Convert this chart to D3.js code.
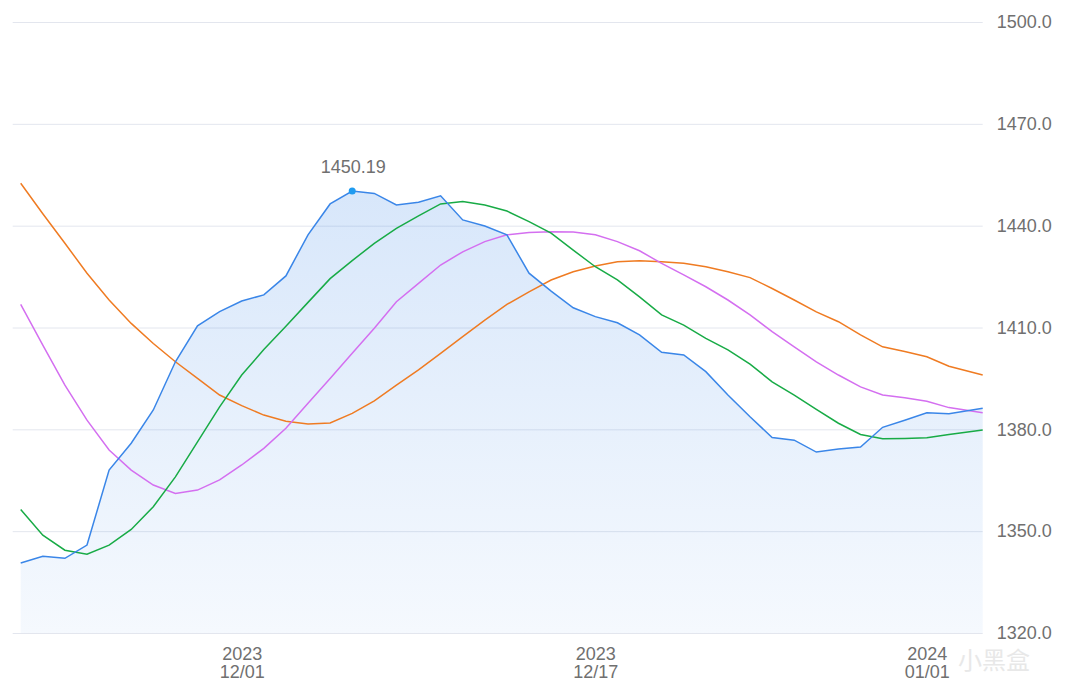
<!DOCTYPE html>
<html>
<head>
<meta charset="utf-8">
<script src="https://cdn.jsdelivr.net/npm/d3@7"></script>
<style>
  body { margin: 0; background: #fff; }
  svg { display: block; font-family: "Liberation Sans", Arial, sans-serif; }
  .grid line { stroke: #e3e6ee; stroke-width: 1; }
  .grid text { fill: #707070; font-size: 18px; }
  .xaxis text { fill: #707070; font-size: 18px; }
  .line { fill: none; stroke-width: 1.5; }
</style>
</head>
<body>
<svg width="1071" height="688"></svg>
<script>
var dates = [
  "2023-11-21","2023-11-22","2023-11-23","2023-11-24","2023-11-25","2023-11-26","2023-11-27",
  "2023-11-28","2023-11-29","2023-11-30","2023-12-01","2023-12-02","2023-12-03","2023-12-04",
  "2023-12-05","2023-12-06","2023-12-07","2023-12-08","2023-12-09","2023-12-10","2023-12-11",
  "2023-12-12","2023-12-13","2023-12-14","2023-12-15","2023-12-16","2023-12-17","2023-12-18",
  "2023-12-19","2023-12-20","2023-12-21","2023-12-22","2023-12-23","2023-12-24","2023-12-25",
  "2023-12-26","2023-12-27","2023-12-28","2023-12-29","2023-12-30","2023-12-31","2024-01-01",
  "2024-01-02","2024-01-03T12:40"
];

// price (blue, filled)
var price = [1340.6,1342.6,1342.0,1345.9,1368.0,1375.9,1385.7,1399.9,1410.5,1414.7,
  1417.8,1419.6,1425.2,1437.3,1446.4,1450.19,1449.5,1446.1,1446.9,1448.8,
  1441.7,1439.9,1437.3,1426.0,1420.7,1415.8,1413.2,1411.4,1407.8,1402.7,
  1401.9,1397.0,1390.1,1383.7,1377.6,1376.8,1373.3,1374.2,1374.8,1380.6,
  1382.7,1384.9,1384.6,1386.2];

var green = [1356.4,1348.8,1344.4,1343.2,1345.9,1350.5,1357.2,1366.0,1376.3,1386.6,
  1396.0,1403.5,1410.4,1417.4,1424.4,1429.7,1434.8,1439.2,1442.9,1446.4,
  1447.1,1446.1,1444.3,1441.2,1437.8,1432.8,1427.9,1424.0,1419.0,1413.7,
  1410.7,1406.8,1403.4,1399.2,1394.0,1390.1,1385.9,1381.8,1378.5,1377.2,
  1377.3,1377.5,1378.5,1379.8];

var magenta = [1416.8,1404.8,1393.0,1382.7,1373.9,1368.0,1363.6,1361.1,1362.1,1365.1,
  1369.5,1374.4,1380.3,1387.7,1395.0,1402.4,1409.8,1417.6,1423.0,1428.4,
  1432.3,1435.3,1437.3,1438.0,1438.2,1438.1,1437.3,1435.3,1432.6,1428.9,
  1425.5,1422.0,1418.1,1413.7,1408.8,1404.3,1399.9,1396.0,1392.5,1390.1,
  1389.3,1388.3,1386.4,1384.9];

var orange = [1452.5,1443.5,1434.8,1426.0,1418.1,1411.2,1405.3,1399.9,1395.0,1390.1,
  1387.0,1384.2,1382.4,1381.6,1381.9,1384.7,1388.4,1393.0,1397.5,1402.4,
  1407.3,1412.2,1416.8,1420.5,1424.0,1426.4,1428.1,1429.4,1429.7,1429.4,
  1428.9,1427.9,1426.4,1424.7,1421.5,1418.1,1414.6,1411.7,1407.8,1404.3,
  1402.9,1401.4,1398.6,1396.0];

var yTicks = [1320, 1350, 1380, 1410, 1440, 1470, 1500];
var xTicks = ["2023-12-01", "2023-12-17", "2024-01-01"];

var svg = d3.select("svg");
var mLeft = 20.7, mRight = 982.7, mTop = 22, mBottom = 633;

var parse = function(s) { return new Date(s.length > 10 ? s : s + "T00:00"); };
var t = dates.map(parse);

var x = d3.scaleTime().domain([t[0], t[t.length - 1]]).range([mLeft, mRight]);
var y = d3.scaleLinear().domain([1320, 1500]).range([mBottom, mTop]);

// grid + right labels
var grid = svg.append("g")
  .attr("class", "grid")
  .attr("transform", "translate(" + mRight + ",0)")
  .call(d3.axisRight(y).tickValues(yTicks).tickSize(-970).tickPadding(14)
    .tickFormat(d3.format(".1f")));
grid.select(".domain").remove();

// x labels
var xa = svg.append("g")
  .attr("class", "xaxis")
  .attr("transform", "translate(0," + mBottom + ")")
  .call(d3.axisBottom(x).tickValues(xTicks.map(parse)).tickSize(0).tickFormat(""));
xa.select(".domain").remove();
xa.selectAll(".tick").each(function(d) {
  var tx = d3.select(this).append("text").attr("text-anchor", "middle").attr("y", 27);
  tx.append("tspan").attr("x", 0).text(d3.timeFormat("%Y")(d));
  tx.append("tspan").attr("x", 0).attr("dy", 18).text(d3.timeFormat("%m/%d")(d));
});

// gradient area
var defs = svg.append("defs");
var grad = defs.append("linearGradient").attr("id", "fill")
  .attr("x1", 0).attr("y1", 0).attr("x2", 0).attr("y2", 1);
grad.append("stop").attr("offset", "0%").attr("stop-color", "#3a86e8").attr("stop-opacity", 0.2);
grad.append("stop").attr("offset", "100%").attr("stop-color", "#3a86e8").attr("stop-opacity", 0.05);

svg.append("path")
  .datum(price)
  .attr("fill", "url(#fill)")
  .attr("d", d3.area()
    .x(function(d, i) { return x(t[i]); })
    .y0(mBottom)
    .y1(function(d) { return y(d); }));

var series = [
  { vals: orange, color: "#ef7b22" },
  { vals: magenta, color: "#d46ff0" },
  { vals: green, color: "#18ab46" },
  { vals: price, color: "#3a86e8" }
];

var line = d3.line()
  .x(function(d, i) { return x(t[i]); })
  .y(function(d) { return y(d); });

svg.selectAll(".line")
  .data(series)
  .enter()
  .append("path")
  .attr("class", "line")
  .attr("stroke", function(d) { return d.color; })
  .attr("d", function(d) { return line(d.vals); });

// max marker
var mi = d3.maxIndex(price);
svg.append("circle")
  .attr("cx", x(t[mi]))
  .attr("cy", y(price[mi]))
  .attr("r", 3.5)
  .attr("fill", "#1f9bf0");
svg.append("text")
  .attr("x", x(t[mi]) + 1)
  .attr("y", y(price[mi]) - 18)
  .attr("text-anchor", "middle")
  .attr("fill", "#707070")
  .attr("font-size", 18)
  .text(d3.format(".2f")(price[mi]));

// watermark
svg.append("text")
  .attr("x", 958)
  .attr("y", 669)
  .attr("fill", "#e8e8e8")
  .attr("font-size", 24)
  .attr("font-family", "Noto Sans CJK SC")
  .text("小黑盒");
</script>
</body>
</html>
